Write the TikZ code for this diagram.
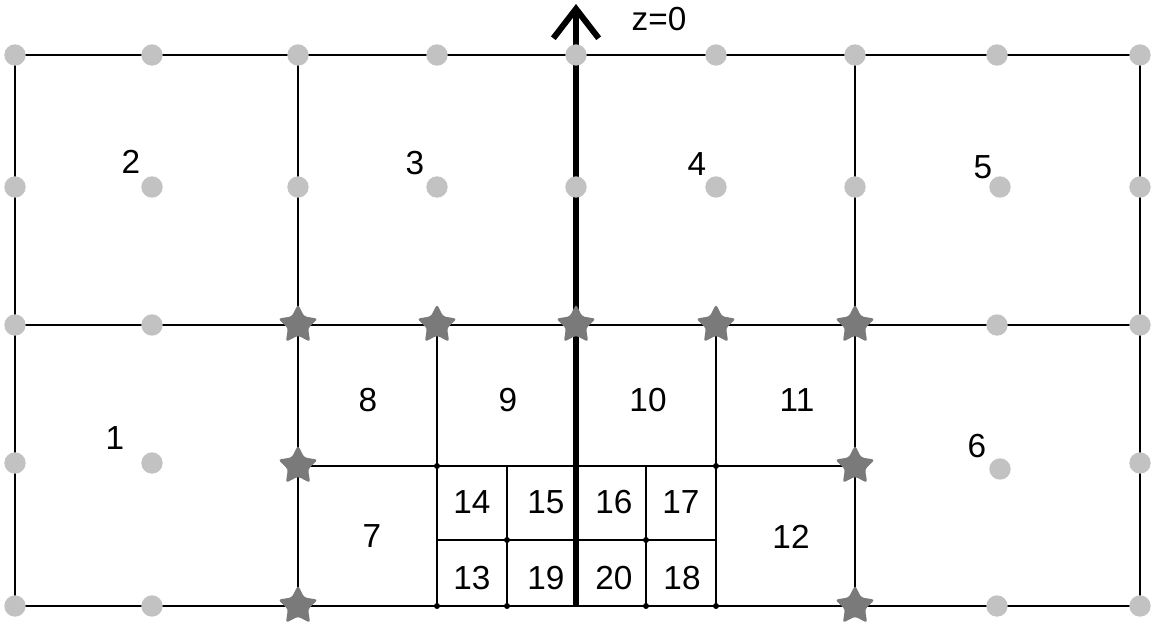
\documentclass[tikz,border=0pt]{standalone}
\usepackage{fontspec}
\setmainfont{Liberation Sans}
\usetikzlibrary{arrows.meta,shapes.geometric}

\begin{document}
\begin{tikzpicture}[x=0.75pt,y=-0.75pt,font=\fontsize{25}{30}\selectfont,
  ln/.style={line width=1.4pt},
  gp/.style={circle,fill=black!24,inner sep=0pt,minimum size=16pt},
  st/.style={star,star points=5,star point ratio=1.95,fill=black!52,inner sep=0pt,minimum size=31pt,rounded corners=2pt},
  sd/.style={circle,fill=black,inner sep=0pt,minimum size=4.5pt},
  lb/.style={inner sep=0pt}]
  \useasboundingbox (0,0) rectangle (1158,626);
  % grid points
  \foreach \i/\x in {0/15,1/152,2/298,3/437,4/576,5/716,6/855,7/997,8/1140}
    \foreach \j/\y in {0/55,1/187,2/325,3/466,4/606}
      \coordinate (p\i\j) at (\x,\y);
  \coordinate (m13) at (437,540); \coordinate (m53) at (716,540);
  \coordinate (a3) at (507,466); \coordinate (a4) at (507,606);
  \coordinate (b3) at (646,466); \coordinate (b4) at (646,606);
  \coordinate (top) at (576,4);
  % lines
  \draw[ln] (p00) rectangle (p84);
  \draw[ln] (p02)--(p82);
  \draw[ln] (p20)--(p24);
  \draw[ln] (p60)--(p64);
  \draw[ln] (p23)--(p63);
  \draw[ln] (p32)--(p34);
  \draw[ln] (p52)--(p54);
  \draw[ln] (m13)--(m53);
  \draw[ln] (a3)--(a4);
  \draw[ln] (b3)--(b4);
  \draw[line width=4.5pt,-{Straight Barb[length=22pt,width=34pt,line width=4.5pt]}] (p44)--(top);
  \node[lb] (z) at (659,19) {z=0};
  % gray points
  \foreach \x/\y in {15/55,152/55,298/55,437/55,576/55,716/55,855/55,997/55,1140/55,
    15/187,152/187,298/187,437/187,576/187,716/187,855/187,1000/187,1140/187,
    15/325,152/325,997/325,1140/325,15/463,152/463,1000/469,1140/463,
    15/606,152/606,997/606,1140/606}
    \node[gp] at (\x,\y) {};
  % stars
  \foreach \p in {p22,p32,p42,p52,p62,p23,p63,p24,p64}
    \node[st] at (\p) {};
  % small points
  \foreach \p in {p33,p53,a4,b4,p34,p54}
    \node[sd] at (\p) {};
  \node[sd] at (507,540) {};
  \node[sd] at (646,540) {};
  % cell numbers
  \foreach \n/\x/\y in {1/115/438,2/131/162,3/415/163,4/697/164,5/983/167,6/977/446,
    7/372/536,8/368/400,9/508/400,10/648/400,11/797/400,12/791/537,
    13/472/578,14/472/502,15/546/502,16/614/502,17/681/502,18/682/578,19/546/578,20/614/578}
    \node[lb] (n\n) at (\x,\y) {\n};
\end{tikzpicture}
\end{document}
